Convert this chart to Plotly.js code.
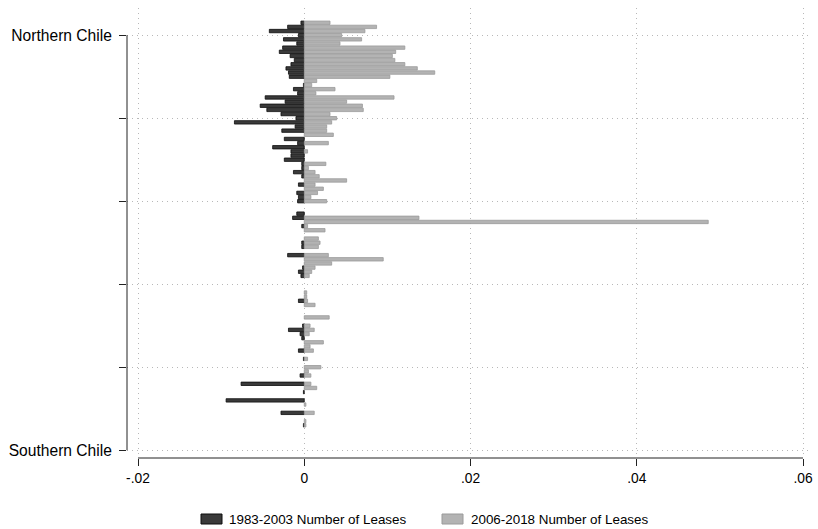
<!DOCTYPE html>
<html>
<head>
<meta charset="utf-8">
<script src="https://cdn.plot.ly/plotly-3.0.1.min.js"></script>
<style>html,body{margin:0;padding:0;background:#fff;}#chart{width:818px;height:529px;}</style>
</head>
<body>
<div id="chart"></div>
<script>
// Row position along the coast (north -> south), one bar pair per row
const rowIndex = [];
for (let k = -3; k <= 94; k++) rowIndex.push(k);

// Share of leases, 1983-2003 (drawn to the left, negative)
const leases1983_2003 = [
 -0.0004,-0.0020,-0.0042,-0.0007,-0.0025,-0.0009,-0.0026,-0.0030,-0.0017,-0.0012,
 -0.0016,-0.0022,-0.0019,-0.0018,0,-0.0001,-0.0013,-0.0008,-0.0047,-0.0023,
 -0.0053,-0.0045,-0.0028,-0.0010,-0.0084,-0.0011,-0.0027,0,-0.0024,-0.0008,
 -0.0038,-0.0016,-0.0016,-0.0024,-0.0003,-0.0003,-0.0013,-0.0003,0,-0.0007,
 0,-0.0009,-0.0007,-0.0008,0,0,-0.0009,-0.0014,0,-0.0003,
 0,0,0,-0.0003,-0.0003,0,-0.0020,0,0,-0.0002,
 -0.0007,-0.0004,0,0,0,0,0,-0.0007,0,0,
 0,0,0,-0.0002,-0.0019,-0.0005,-0.0003,0,0,-0.0007,
 0,-0.0001,0,0,0,-0.0005,0,-0.0076,0,-0.0001,
 0,-0.0094,0,0,-0.0028,0,0,-0.0001
];

// Share of leases, 2006-2018 (drawn to the right)
const leases2006_2018 = [
 0.0031,0.0087,0.0073,0.0045,0.0069,0.0043,0.0121,0.0110,0.0106,0.0109,
 0.0121,0.0136,0.0157,0.0103,0.0015,0.0009,0.0037,0.0014,0.0108,0.0051,
 0.0070,0.0071,0.0031,0.0039,0.0033,0.0027,0.0027,0.0035,0,0.0029,
 0,0.0004,0,0,0.0026,0.0005,0.0013,0.0018,0.0051,0.0013,
 0.0023,0.0016,0.0008,0.0027,0,0,0,0.0138,0.0486,0.0004,
 0.0025,0,0.0017,0.0019,0.0017,0,0.0029,0.0095,0.0033,0.0013,
 0.0009,0.0006,0,0,0,0.0003,0.0003,0.0004,0.0013,0,
 0,0.0030,0,0.0007,0.0012,0.0006,0,0.0023,0.0007,0.0011,
 0,0.0004,0,0.0020,0.0005,0.0008,0,0.0008,0.0015,0,
 0,0,0.0002,0,0.0012,0,0.0002,0.0002
];

const seriesNames = ["1983-2003 Number of Leases", "2006-2018 Number of Leases"];
const yTickVals = [0, 20, 40, 60, 80, 100];
const yTickText = ["Northern Chile", "", "", "", "", "Southern Chile"];
const xTickVals = [-0.02, 0, 0.02, 0.04, 0.06];
const xTickText = ["-.02", "0", ".02", ".04", ".06"];

const nz = a => a.map(v => (v === 0 ? null : v));

const darkFill = "#3a3a3a", darkEdge = "#0d0d0d";
const lightFill = "#b3b3b3", lightEdge = "#9a9a9a";

const traces = [
  {type: "bar", orientation: "h", name: seriesNames[0], y: rowIndex, x: nz(leases1983_2003),
   width: 0.82, marker: {color: darkFill, line: {color: darkEdge, width: 0.8}}, showlegend: false},
  {type: "bar", orientation: "h", name: seriesNames[1], y: rowIndex, x: nz(leases2006_2018),
   width: 0.82, marker: {color: lightFill, line: {color: lightEdge, width: 0.8}}, showlegend: false}
];

// plot area: x 127..812 px, y 8..458 px
const L = 127, R = 812, T = 8, B = 458;
const pxPerX = 665 / 0.08;
const xr = [-0.02 - (138 - L) / pxPerX, 0.06 + (R - 803) / pxPerX];
const pxPerY = 83 / 20;
const y0px = 35.2;
const yr = [(B - y0px) / pxPerY, -(y0px - T) / pxPerY];

const px = p => (p - L) / (R - L);
const py = p => (B - p) / (B - T);

const fam = "Liberation Sans, Arial, Helvetica, sans-serif";
const font = {family: fam, size: 13.4, color: "#000"};
const yFont = {family: fam, size: 15.6, color: "#000"};
const xFont = {family: fam, size: 13.8, color: "#000"};
const gridDash = "1px,4px";

const layout = {
  width: 818, height: 529,
  margin: {l: L, r: 818 - R, t: T, b: 529 - B, pad: 0},
  paper_bgcolor: "#fff", plot_bgcolor: "#fff",
  barmode: "overlay", bargap: 0,
  font: font,
  showlegend: false,
  xaxis: {
    range: xr, tickvals: xTickVals, ticktext: xTickText,
    showline: false, zeroline: false,
    showgrid: true, gridcolor: "#b8b8b8", griddash: gridDash, gridwidth: 1,
    ticks: "outside", ticklen: 7, tickcolor: "#222", tickwidth: 1,
    tickfont: xFont, fixedrange: true
  },
  yaxis: {
    range: yr, tickvals: yTickVals, ticktext: yTickText,
    showline: false, zeroline: false,
    showgrid: true, gridcolor: "#b8b8b8", griddash: gridDash, gridwidth: 1,
    ticks: "outside", ticklen: 7, tickcolor: "#222", tickwidth: 1,
    tickfont: yFont, ticklabelstandoff: 4, fixedrange: true
  },
  shapes: [
    {type: "line", xref: "paper", yref: "y", x0: 0, x1: 0, y0: 0, y1: 100, line: {color: "#222", width: 1}},
    {type: "line", xref: "x", yref: "paper", x0: -0.02, x1: 0.06, y0: 0, y1: 0, line: {color: "#222", width: 1}},
    {type: "rect", xref: "paper", yref: "paper", x0: px(201), x1: px(222), y0: py(524), y1: py(514),
     fillcolor: darkFill, line: {color: darkEdge, width: 1}},
    {type: "rect", xref: "paper", yref: "paper", x0: px(442), x1: px(463), y0: py(524), y1: py(514),
     fillcolor: lightFill, line: {color: lightEdge, width: 1}}
  ],
  annotations: [
    {xref: "paper", yref: "paper", x: px(227), y: py(519), xanchor: "left", yanchor: "middle",
     text: seriesNames[0], showarrow: false, font: font},
    {xref: "paper", yref: "paper", x: px(469), y: py(519), xanchor: "left", yanchor: "middle",
     text: seriesNames[1], showarrow: false, font: font}
  ]
};

Plotly.newPlot("chart", traces, layout, {displayModeBar: false, staticPlot: true});
</script>
</body>
</html>
